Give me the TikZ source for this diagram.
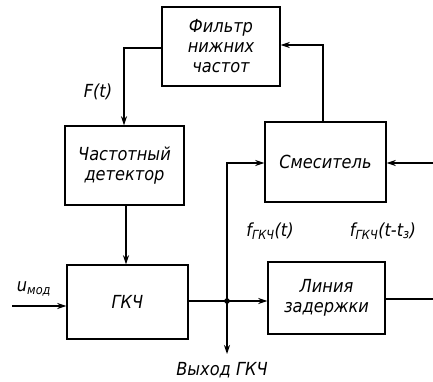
\documentclass[tikz,border=0pt]{standalone}
\usepackage{fontspec}
\setmainfont{DejaVu Sans Condensed}
\usetikzlibrary{arrows.meta}
\begin{document}
\begin{tikzpicture}[x=1pt,y=-1pt,
  blk/.style={draw,line width=1.4pt,inner sep=0pt,align=center,font=\fontsize{18}{20}\selectfont\itshape},
  lbl/.style={font=\fontsize{18}{20}\selectfont\itshape,inner sep=1pt},
  ln/.style={line width=1.4pt},
  thk/.style={line width=2.4pt},
  arr/.style={-{Stealth[length=9pt,width=6pt]}},
  ]
\useasboundingbox (0,0) rectangle (433,381);
\node[blk,minimum width=118pt,minimum height=79pt] (flt) at (221,46.5) {Фильтр\\нижних\\частот};
\node[blk,minimum width=119pt,minimum height=79pt] (det) at (124.5,165.5) {Частотный\\детектор};
\node[blk,minimum width=121pt,minimum height=80pt] (mix) at (325.5,162) {Смеситель};
\node[blk,minimum width=121pt,minimum height=74pt] (gen) at (127.5,302) {ГКЧ};
\node[blk,minimum width=117pt,minimum height=72pt] (dl) at (326.5,298) {Линия\\задержки};
\coordinate (c1) at (124,48);
\coordinate (c2) at (323,45);
\coordinate (c3) at (126,200);
\coordinate (rin) at (433,163);
\coordinate (uin) at (12,306);
\coordinate (j) at (227,301);
\coordinate (jt) at (227,163);
\coordinate (out) at (227,354);
\coordinate (rout) at (433,299);
\draw[thk,arr] (flt.west |- c1) -- (c1) -- (c1 |- det.north);
\draw[ln,arr] (c2 |- mix.north) -- (c2) -- (flt.east |- c2);
\draw[thk,arr] (rin) -- (mix.east |- rin);
\draw[thk,arr] (c3 |- det.south) -- (c3 |- gen.north);
\draw[ln,arr] (uin) -- (gen.west |- uin);
\draw[ln] (gen.east |- j) -- (j);
\draw[ln,arr] (j) -- (dl.west |- j);
\draw[ln,arr] (j) -- (jt) -- (mix.west |- jt);
\draw[ln,arr] (j) -- (out);
\draw[ln] (dl.east |- rout) -- (rout);
\fill (j) circle (2.8pt);
\node[lbl] (ft) at (98,92) {F(t)};
\node[lbl] (um) at (34,289) {u\textsubscript{мод}};
\node[lbl] (fg) at (270,231) {f\textsubscript{ГКЧ}(t)};
\node[lbl] (fgd) at (383,231) {f\textsubscript{ГКЧ}(t-t\textsubscript{з})};
\node[lbl] (vyh) at (222,370) {Выход ГКЧ};
\end{tikzpicture}
\end{document}
